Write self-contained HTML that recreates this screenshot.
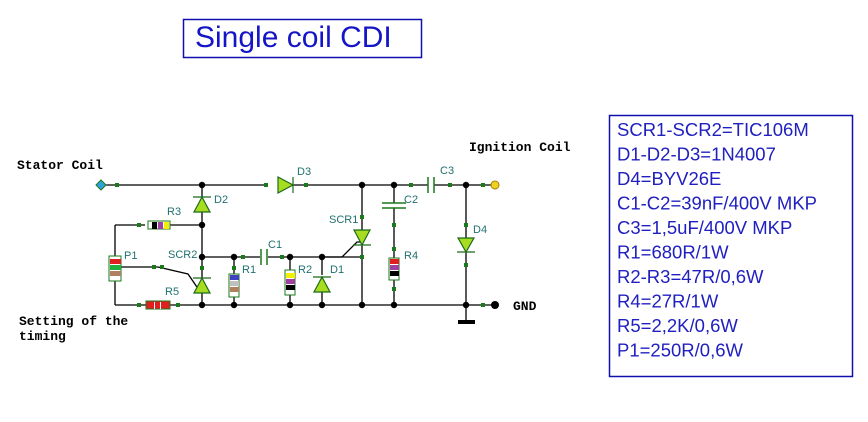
<!DOCTYPE html>
<html><head><style>body{margin:0;background:#fff}svg{display:block}</style></head><body>
<svg width="868" height="422" viewBox="0 0 868 422" xmlns="http://www.w3.org/2000/svg" font-family="Liberation Sans, sans-serif">
<rect width="868" height="422" fill="#fff"/>
<rect x="183.5" y="19.5" width="238" height="38" fill="none" stroke="#1010b0" stroke-width="1.5"/>
<text x="195" y="47" font-size="30" fill="#1515c8">Single coil CDI</text>
<rect x="609.5" y="115.5" width="243" height="261" fill="none" stroke="#1010b0" stroke-width="1.5"/>
<g font-size="18.5" fill="#2020c0">
<text x="617" y="136">SCR1-SCR2=TIC106M</text>
<text x="617" y="160.5">D1-D2-D3=1N4007</text>
<text x="617" y="185">D4=BYV26E</text>
<text x="617" y="209.5">C1-C2=39nF/400V MKP</text>
<text x="617" y="234">C3=1,5uF/400V MKP</text>
<text x="617" y="258.5">R1=680R/1W</text>
<text x="617" y="283">R2-R3=47R/0,6W</text>
<text x="617" y="307.5">R4=27R/1W</text>
<text x="617" y="332">R5=2,2K/0,6W</text>
<text x="617" y="356.5">P1=250R/0,6W</text>
</g>
<g font-family="Liberation Mono, monospace" font-weight="bold" font-size="13" fill="#000">
<text x="17" y="169">Stator Coil</text>
<text x="469" y="151">Ignition Coil</text>
<text x="19" y="325">Setting of the</text>
<text x="19" y="340">timing</text>
<text x="513" y="310">GND</text>
</g>
<g stroke="#000" stroke-width="1.3" fill="none">
<path d="M101 185H266M293 185H428M434 185H495"/>
<path d="M202 185V197M202 212V257"/>
<path d="M115 225H145M170 225H202"/>
<path d="M115 225V256M115 281V305"/>
<path d="M115 305H146M170 305H495"/>
<path d="M202 257H260M268 257H362"/>
<path d="M202 257V278M202 293V305"/>
<path d="M234 257V274M234 297V305"/>
<path d="M290 257V270M290 295V305"/>
<path d="M322 257V275M322 292V305"/>
<path d="M322 257H342L357 242H362"/>
<path d="M362 185V230M362 245V305"/>
<path d="M394 185V203M394 208V258M394 280V305"/>
<path d="M466 185V238M466 252V305"/>
<path d="M466 305V320"/>
<path d="M120 267H158L188 274L199 290"/>
</g>
<rect x="458" y="320" width="17" height="4" fill="#000"/>
<g fill="#1a7a1a">
<rect x="115" y="183" width="4" height="4"/><rect x="264" y="183" width="4" height="4"/><rect x="304" y="183" width="4" height="4"/>
<rect x="409" y="183" width="4" height="4"/><rect x="448" y="183" width="4" height="4"/><rect x="481" y="183" width="4" height="4"/>
<rect x="137" y="223" width="4" height="4"/><rect x="137" y="303" width="4" height="4"/><rect x="176" y="303" width="4" height="4"/>
<rect x="241" y="255" width="4" height="4"/><rect x="280" y="255" width="4" height="4"/>
<rect x="152" y="265" width="4" height="4"/><rect x="160" y="265" width="4" height="4"/>
<rect x="200" y="266" width="4" height="4"/><rect x="232" y="266" width="4" height="4"/>
<rect x="360" y="215" width="4" height="4"/><rect x="360" y="255" width="4" height="4"/>
<rect x="392" y="223" width="4" height="4"/><rect x="392" y="247" width="4" height="4"/><rect x="392" y="287" width="4" height="4"/>
<rect x="464" y="223" width="4" height="4"/><rect x="464" y="263" width="4" height="4"/>
<rect x="481" y="303" width="4" height="4"/>
</g>
<g fill="#000">
<circle cx="202" cy="185" r="3.2"/><circle cx="202" cy="225" r="3.2"/><circle cx="202" cy="257" r="3.2"/><circle cx="202" cy="305" r="3.2"/>
<circle cx="234" cy="257" r="3.2"/><circle cx="234" cy="305" r="3.2"/><circle cx="290" cy="257" r="3.2"/><circle cx="290" cy="305" r="3.2"/>
<circle cx="322" cy="257" r="3.2"/><circle cx="322" cy="305" r="3.2"/><circle cx="362" cy="185" r="3.2"/><circle cx="362" cy="305" r="3.2"/>
<circle cx="394" cy="185" r="3.2"/><circle cx="394" cy="305" r="3.2"/><circle cx="466" cy="185" r="3.2"/><circle cx="466" cy="305" r="3.2"/>
<circle cx="495" cy="305" r="4"/>
</g>
<path d="M101 180L106 185L101 190L96 185Z" fill="#30a0e0" stroke="#1a7a1a"/>
<circle cx="495" cy="185" r="4" fill="#f0d020" stroke="#a08000"/>
<g fill="#a8dc20" stroke="#1a6a1a" stroke-width="1.2">
<path d="M278 177L293 185L278 193Z"/><path d="M293 177V193"/>
<path d="M194 212L202 197L210 212Z"/><path d="M193 197H211"/>
<path d="M194 293L202 278L210 293Z"/><path d="M193 278H211"/>
<path d="M314 292L322 277L330 292Z"/><path d="M313 277H331"/>
<path d="M354 230L362 245L370 230Z"/><path d="M353 245H371"/>
<path d="M458 238L466 252L474 238Z"/><path d="M457 252H475"/>
</g>
<g stroke="#1a7a1a" stroke-width="1.5">
<path d="M261 249V265M267 249V265"/>
<path d="M428 177V193M434 177V193"/>
<path d="M382 203H406M382 208H406"/>
</g>
<g stroke="#1a7a1a" stroke-width="1">
<rect x="148" y="221" width="22" height="8" fill="#fff"/>
<rect x="146" y="301" width="24" height="8" fill="#e02020"/>
<rect x="229" y="274" width="10" height="23" fill="#fff"/>
<rect x="285" y="270" width="10" height="25" fill="#fff"/>
<rect x="389" y="258" width="10" height="22" fill="#fff"/>
<rect x="109" y="256" width="12" height="25" fill="#fff"/>
</g>
<rect x="152" y="222" width="5" height="7" fill="#000"/><rect x="158" y="222" width="5" height="7" fill="#a040a0"/><rect x="164" y="222" width="5" height="7" fill="#f0f000"/>
<rect x="154" y="302" width="1" height="7" fill="#fff"/><rect x="160" y="302" width="1" height="7" fill="#fff"/>
<rect x="230" y="275" width="9" height="5" fill="#4040c0"/><rect x="230" y="281" width="9" height="5" fill="#c0c0c0"/><rect x="230" y="287" width="9" height="5" fill="#b08060"/>
<rect x="286" y="273" width="9" height="5" fill="#f0f000"/><rect x="286" y="279" width="9" height="5" fill="#a040a0"/><rect x="286" y="285" width="9" height="5" fill="#000"/>
<rect x="390" y="259" width="9" height="5" fill="#e02020"/><rect x="390" y="265" width="9" height="5" fill="#a040a0"/><rect x="390" y="271" width="9" height="5" fill="#000"/>
<rect x="110" y="259" width="11" height="5" fill="#e02020"/><rect x="110" y="265" width="11" height="5" fill="#20b040"/><rect x="110" y="271" width="11" height="5" fill="#b08060"/>
<g font-size="11" fill="#207070">
<text x="297" y="175">D3</text><text x="214" y="203">D2</text><text x="167" y="215">R3</text>
<text x="124" y="259">P1</text><text x="168" y="258">SCR2</text><text x="165" y="295">R5</text>
<text x="268" y="248">C1</text><text x="242" y="273">R1</text><text x="298" y="273">R2</text><text x="330" y="273">D1</text>
<text x="329" y="223">SCR1</text><text x="404" y="203">C2</text><text x="404" y="259">R4</text>
<text x="440" y="174">C3</text><text x="473" y="233">D4</text>
</g>
</svg>
</body></html>
